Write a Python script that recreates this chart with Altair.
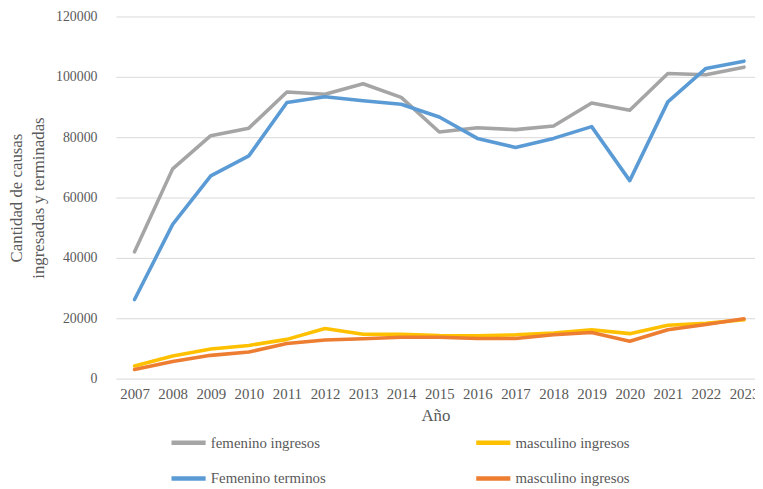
import altair as alt
import pandas as pd

years = [str(y) for y in range(2007, 2024)]

fem_ingresos = [42000, 69500, 80500, 83000, 95000, 94200, 97700, 93200, 81700, 83100,
                82500, 83700, 91300, 88900, 101100, 100700, 103200]
masc_ingresos = [4200, 7500, 9800, 11000, 13000, 16600, 14700, 14700, 14300, 14200,
                 14500, 15100, 16200, 14900, 17700, 18300, 19500]
fem_terminos = [26200, 51100, 67200, 73800, 91500, 93400, 92100, 90900, 86700, 79600,
                76600, 79600, 83500, 65600, 91700, 102800, 105200]
masc_terminos = [3000, 5700, 7700, 8800, 11600, 12800, 13200, 13700, 13700, 13300,
                 13300, 14500, 15300, 12400, 16200, 17900, 19800]

# drawing order (later on top)
series_names = ["femenino ingresos", "masculino ingresos", "Femenino terminos", "masculino terminos"]
series_values = [fem_ingresos, masc_ingresos, fem_terminos, masc_terminos]
# legend / colour order
legend_order = ["femenino ingresos", "Femenino terminos", "masculino ingresos", "masculino terminos"]
legend_colors = ["#A5A5A5", "#5B9BD5", "#FFC000", "#ED7D31"]

rows = []
for order, (name, vals) in enumerate(zip(series_names, series_values)):
    for yr, v in zip(years, vals):
        rows.append({"Año": yr, "valor": v, "serie": name, "orden": order})
df = pd.DataFrame(rows)

FONT = "Liberation Serif"
TXT = "#595959"

chart = alt.Chart(df).mark_line(strokeWidth=3.6, strokeCap="round", strokeJoin="round").encode(
    x=alt.X("Año:N", sort=years,
            scale=alt.Scale(type="point", padding=0.39, align=0.63),
            axis=alt.Axis(title="Año", labelAngle=0, ticks=False, domain=False,
                          labelPadding=8, titlePadding=6, labelFontSize=15,
                          labelFont=FONT, titleFont=FONT, labelColor=TXT, titleColor=TXT,
                          titleFontSize=17, titleFontWeight="normal", grid=False)),
    y=alt.Y("valor:Q",
            scale=alt.Scale(domain=[0, 120000], nice=False),
            axis=alt.Axis(title=["Cantidad de causas", "ingresadas y terminadas"],
                          values=[0, 20000, 40000, 60000, 80000, 100000, 120000],
                          format="d", ticks=False, domain=False, labelPadding=19,
                          labelFont=FONT, titleFont=FONT, labelColor=TXT, titleColor=TXT,
                          titlePadding=8, labelFontSize=14, titleFontSize=17,
                          titleFontWeight="normal",
                          titleLineHeight=22, gridColor="#D9D9D9", gridWidth=1)),
    color=alt.Color("serie:N",
                    scale=alt.Scale(domain=legend_order, range=legend_colors),
                    legend=alt.Legend(title=None, orient="none", legendX=54, legendY=411,
                                      columns=2, symbolType="stroke", symbolSize=1190,
                                      symbolStrokeWidth=4.5, labelFontSize=15,
                                      labelFont=FONT, labelColor=TXT,
                                      labelOffset=3, columnPadding=142, rowPadding=7.5,
                                      labelExpr="datum.label == 'masculino terminos' ? 'masculino ingresos' : datum.label")),
    detail="orden:O",
).properties(
    width=646, height=366,
    padding={"left": 109, "top": 6, "right": 0, "bottom": 108},
    autosize=alt.AutoSizeParams(type="none"),
).configure(font=FONT).configure_view(stroke=None)

chart.save("out.html", embed_options={"renderer": "svg", "actions": False})
